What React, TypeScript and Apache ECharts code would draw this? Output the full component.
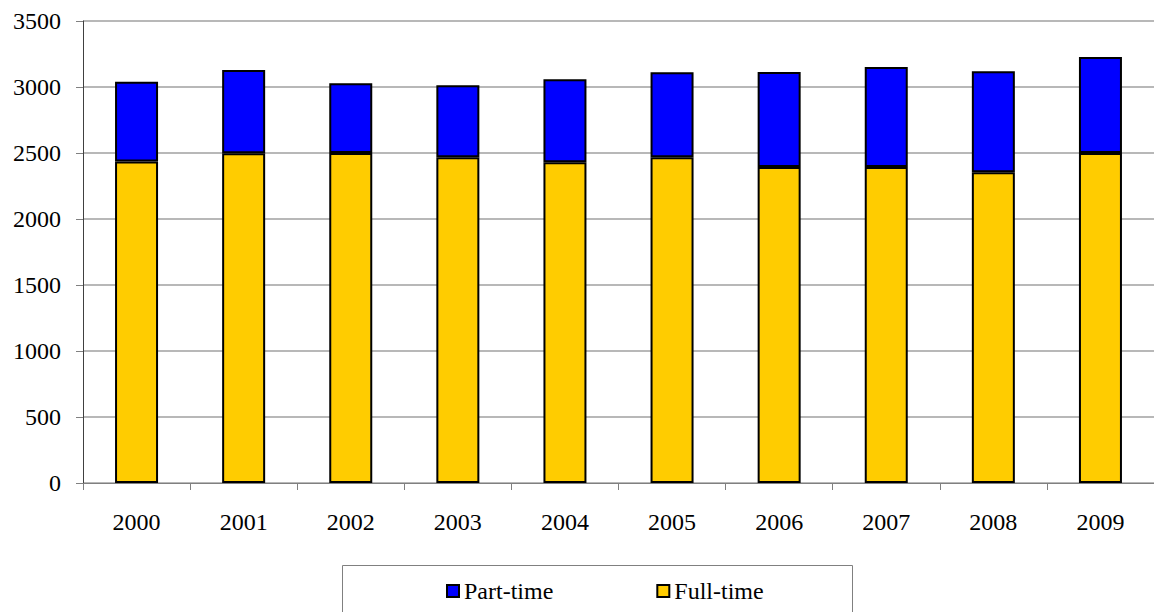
import React, { useEffect, useRef } from "react";
import * as echarts from "echarts";

const years = ["2000", "2001", "2002", "2003", "2004", "2005", "2006", "2007", "2008", "2009"];
const fullTime = [2435, 2498, 2500, 2467, 2430, 2467, 2394, 2394, 2354, 2500];
const partTime = [605, 631, 528, 546, 628, 644, 720, 758, 766, 728];
const seriesNames = ["Part-time", "Full-time"];

const FONT = "Liberation Serif";

export default function App() {
  const ref = useRef<HTMLDivElement>(null);
  useEffect(() => {
    if (!ref.current) return;
    const chart = echarts.init(ref.current, null, { renderer: "svg" });
    chart.setOption({
      animation: false,
      backgroundColor: "#ffffff",
      textStyle: { fontFamily: FONT },
      grid: { left: 83, top: 21, width: 1074, height: 462, containLabel: false },
      xAxis: {
        type: "category",
        data: years,
        axisLine: { show: true, lineStyle: { color: "#808080", width: 1 } },
        axisTick: { show: true, length: 7, alignWithLabel: false, lineStyle: { color: "#808080" } },
        axisLabel: { color: "#000", fontSize: 24, fontFamily: FONT, margin: 27 },
        splitLine: { show: false },
      },
      yAxis: {
        type: "value",
        min: 0,
        max: 3500,
        interval: 500,
        axisLine: { show: true, lineStyle: { color: "#404040", width: 1 } },
        axisTick: { show: true, length: 7, lineStyle: { color: "#808080" } },
        axisLabel: {
          color: "#000",
          fontSize: 24,
          fontFamily: FONT,
          margin: 22,
          formatter: (v: number) => String(v),
        },
        splitLine: { show: true, lineStyle: { color: "#a0a0a0", width: 1.5 } },
      },
      legend: {
        data: seriesNames,
        left: 441,
        top: 574,
        itemWidth: 12,
        itemHeight: 12,
        itemGap: 103,
        icon: "rect",
        itemStyle: { borderColor: "#000", borderWidth: 2 },
        textStyle: { color: "#000", fontSize: 24, fontFamily: FONT },
      },
      graphic: [
        {
          type: "rect",
          shape: { x: 342.5, y: 565.5, width: 510, height: 60 },
          style: { fill: "none", stroke: "#808080", lineWidth: 1 },
          silent: true,
        },
      ],
      series: [
        {
          name: "Full-time",
          type: "bar",
          stack: "total",
          data: fullTime,
          barWidth: 43,
          itemStyle: { color: "#ffcc00", borderColor: "#000", borderWidth: 2 },
        },
        {
          name: "Part-time",
          type: "bar",
          stack: "total",
          data: partTime,
          barWidth: 43,
          itemStyle: { color: "#0000ff", borderColor: "#000", borderWidth: 2 },
        },
      ],
    });
    return () => chart.dispose();
  }, []);
  return (
    <div
      ref={ref}
      style={{ position: "fixed", left: 0, top: 0, width: 1154, height: 612, background: "#fff" }}
    />
  );
}
